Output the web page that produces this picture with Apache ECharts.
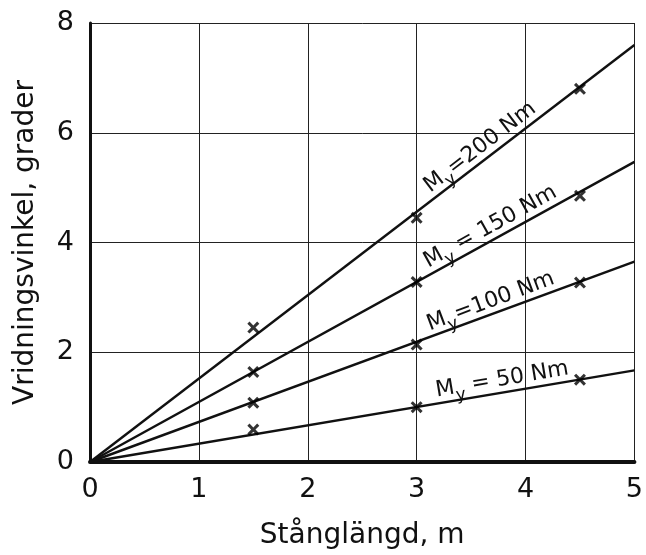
<!DOCTYPE html>
<html><head><meta charset="utf-8">
<script src="https://cdn.jsdelivr.net/npm/echarts@6/dist/echarts.min.js"></script>
<style>html,body{margin:0;padding:0;background:#fff}#c{width:646px;height:555px}</style>
</head><body><div id="c"></div>
<script>
// Data
const torques = ['200', '150', '100', '50'];           // M_y, Nm
const labelEq = ['=', ' = ', '=', ' = '];
const lineX = [0, 5];
const lineEnd200 = [0, 7.6];
const lineEnd150 = [0, 5.47];
const lineEnd100 = [0, 3.65];
const lineEnd50  = [0, 1.67];
const markX = [1.5, 3, 4.5];
const mark200 = [2.45, 4.45, 6.8];
const mark150 = [1.64, 3.28, 4.85];
const mark100 = [1.08, 2.14, 3.27];
const mark50  = [0.59, 1.0, 1.5];
const xTicks = [0, 1, 2, 3, 4, 5];
const yTicks = [0, 2, 4, 6, 8];

const FONT = 'DejaVu Sans';
const lines = [lineEnd200, lineEnd150, lineEnd100, lineEnd50];
const marks = [mark200, mark150, mark100, mark50];
const labelAt = [3.6, 3.69, 3.69, 3.79];
const labelRise = [0.22, 0.2, 0.18, 0.18];
const labelRot = [37.5, 29, 20.5, 9.5];

const crossPath = 'path://M0,1.8L1.8,0L5,3.2L8.2,0L10,1.8L6.8,5L10,8.2L8.2,10L5,6.8L1.8,10L0,8.2L3.2,5Z';

const series = [];
lines.forEach((ys, i) => {
  const slope = (ys[1] - ys[0]) / (lineX[1] - lineX[0]);
  const lx = labelAt[i];
  series.push({
    type: 'line',
    data: lineX.map((x, k) => [x, ys[k]]),
    symbol: 'none',
    lineStyle: {color: '#111', width: 2.4},
    z: 3,
    silent: true,
    markPoint: {
      symbol: 'circle', symbolSize: 0,
      silent: true,
      data: [{coord: [lx, slope * lx + labelRise[i]]}],
      label: {
        show: true,
        position: 'inside',
        rotate: labelRot[i],
        formatter: '{m|M}{s|y}{m|' + labelEq[i] + torques[i] + ' Nm}',
        rich: {
          m: {fontFamily: FONT, fontSize: 22, color: '#111', lineHeight: 22, verticalAlign: 'top'},
          s: {fontFamily: FONT, fontSize: 17, color: '#111', lineHeight: 28, verticalAlign: 'bottom'}
        }
      }
    }
  });
  series.push({
    type: 'scatter',
    data: markX.map((x, k) => [x, marks[i][k]]),
    symbol: crossPath,
    symbolSize: 12,
    itemStyle: {color: '#000'},
    z: 4,
    silent: true
  });
});

const chart = echarts.init(document.getElementById('c'), null, {renderer: 'canvas'});
chart.setOption({
  animation: false,
  backgroundColor: '#fff',
  grid: {left: 90, right: 9, top: 23, bottom: 93},
  xAxis: {
    type: 'value', min: xTicks[0], max: xTicks[xTicks.length - 1], interval: 1,
    name: 'Stånglängd, m', nameLocation: 'middle', nameGap: 60,
    nameTextStyle: {fontFamily: FONT, fontSize: 28, color: '#111'},
    axisLine: {show: true, onZero: false, lineStyle: {color: '#111', width: 4}},
    axisTick: {show: false},
    axisLabel: {fontFamily: FONT, fontSize: 27, color: '#111', margin: 14},
    splitLine: {show: true, lineStyle: {color: '#222', width: 1}}
  },
  yAxis: {
    type: 'value', min: yTicks[0], max: yTicks[yTicks.length - 1], interval: 2,
    name: 'Vridningsvinkel, grader', nameLocation: 'middle', nameGap: 50,
    nameTextStyle: {fontFamily: FONT, fontSize: 28, color: '#111'},
    axisLine: {show: true, onZero: false, lineStyle: {color: '#111', width: 3}},
    axisTick: {show: false},
    axisLabel: {fontFamily: FONT, fontSize: 27, color: '#111', margin: 16},
    splitLine: {show: true, lineStyle: {color: '#222', width: 1}}
  },
  series: series
});
</script>
</body></html>
